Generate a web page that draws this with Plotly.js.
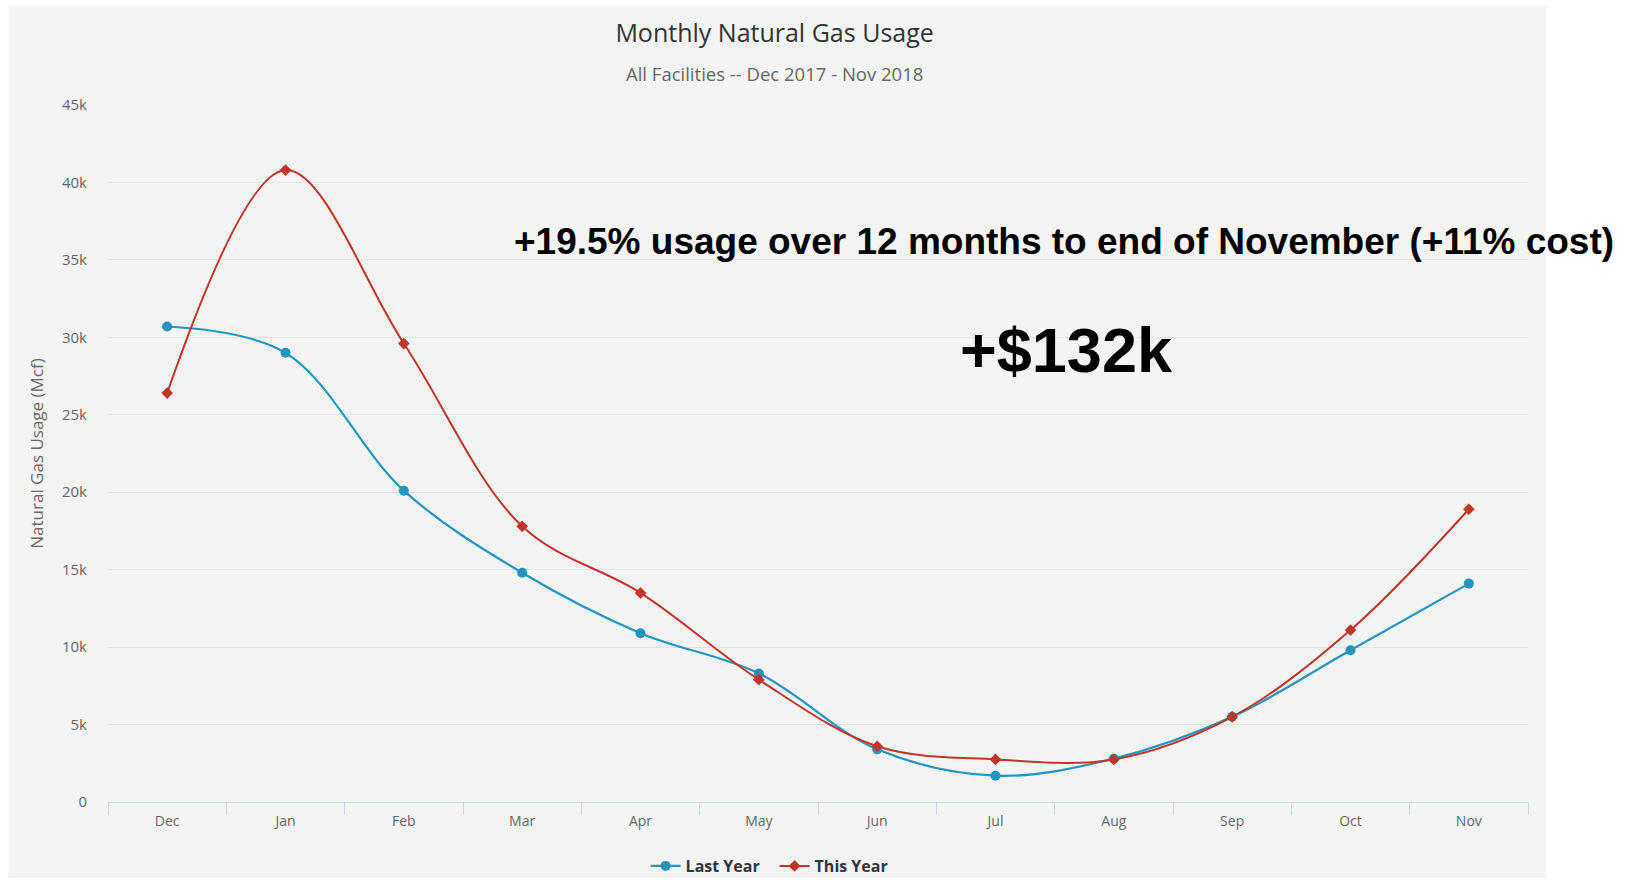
<!DOCTYPE html>
<html>
<head>
<meta charset="utf-8">
<script src="https://cdn.plot.ly/plotly-3.0.1.min.js"></script>
<style>html,body{margin:0;padding:0;background:#fff;}#chart{width:1638px;height:880px;}</style>
</head>
<body>
<div id="chart"></div>
<script>
const months = ["Dec","Jan","Feb","Mar","Apr","May","Jun","Jul","Aug","Sep","Oct","Nov"];
const lastYear = [30700, 29000, 20100, 14800, 10900, 8300, 3400, 1700, 2800, 5500, 9800, 14100];
const thisYear = [26400, 40800, 29600, 17800, 13500, 7900, 3600, 2750, 2750, 5500, 11100, 18900];
const yTickVals = [0, 5000, 10000, 15000, 20000, 25000, 30000, 35000, 40000, 45000];
const yTickText = ["0","5k","10k","15k","20k","25k","30k","35k","40k","45k"];

const W = 1638, H = 880;
const L = 107.6, R = 1528.3, T = 104.5, B = 802;
const pw = R - L, ph = B - T;
const px = x => (x - L) / pw;
const py = y => (B - y) / ph;

const blue = "#2294bf", red = "#c3342a";
const baseFont = "'Open Sans', 'DejaVu Sans', sans-serif";

const traces = [
  {x: months, y: lastYear, name: "Last Year", type: "scatter", mode: "lines+markers",
   line: {color: blue, width: 2.2, shape: "spline", smoothing: 1},
   marker: {color: blue, size: 10, symbol: "circle"}},
  {x: months, y: thisYear, name: "This Year", type: "scatter", mode: "lines+markers",
   line: {color: red, width: 2, shape: "spline", smoothing: 1},
   marker: {color: red, size: 9, symbol: "diamond"}}
];

const layout = {
  width: W, height: H,
  margin: {l: L, r: W - R, t: T, b: H - B, pad: 0, autoexpand: false},
  paper_bgcolor: "#ffffff",
  plot_bgcolor: "rgba(0,0,0,0)",
  font: {family: baseFont, color: "#666"},
  title: {text: "Monthly Natural Gas Usage", xref: "container", x: 774.6 / W, xanchor: "center",
          yref: "container", y: 1 - 33.5/H, yanchor: "middle",
          font: {family: baseFont, size: 25, color: "#333"}},
  showlegend: true,
  legend: {orientation: "h", xref: "container", x: 774.6 / W, xanchor: "center",
           yref: "container", y: 1 - 866/H, yanchor: "middle",
           font: {family: baseFont, size: 16, color: "#333", weight: 700}, bgcolor: "rgba(0,0,0,0)",
           itemwidth: 30, tracegroupgap: 0, entrywidth: 84, entrywidthmode: "pixels"},
  xaxis: {type: "category", range: [-0.5, 11.5], fixedrange: true, automargin: false,
          showgrid: false, showline: true, linecolor: "#ccd6eb", linewidth: 1,
          ticks: "outside", tickson: "boundaries", ticklen: 12, tickcolor: "#ccd6eb", tickwidth: 1,
          ticklabelstandoff: 6,
          tickfont: {family: baseFont, size: 14, color: "#666"}, zeroline: false},
  yaxis: {range: [0, 45000], tickvals: yTickVals, ticktext: yTickText, fixedrange: true, automargin: false,
          showgrid: true, gridcolor: "#e4e4e4", gridwidth: 1, zeroline: false, showline: false,
          ticks: "", ticklabelstandoff: 20,
          tickfont: {family: baseFont, size: 15, color: "#666"},
          title: {text: "Natural Gas Usage (Mcf)", standoff: 14, font: {family: baseFont, size: 17, color: "#666"}}},
  shapes: [
    {type: "rect", xref: "paper", yref: "paper", x0: px(8), x1: px(1546), y0: py(878), y1: py(5),
     fillcolor: "#f4f4f4", line: {width: 0}, layer: "below"}
  ],
  annotations: [
    {text: "All Facilities -- Dec 2017 - Nov 2018", xref: "paper", yref: "paper", x: px(774.6), y: py(73),
     xanchor: "center", yanchor: "middle", showarrow: false, font: {family: baseFont, size: 18.5, color: "#666"}},
    {text: "<b>+19.5% usage over 12 months to end of November (+11% cost)</b>", xref: "paper", yref: "paper",
     x: px(512), y: py(241), xanchor: "left", yanchor: "middle", showarrow: false,
     font: {family: "'Liberation Sans', Arial, sans-serif", size: 37, color: "#000"}},
    {text: "<b>+$132k</b>", xref: "paper", yref: "paper", x: px(1067), y: py(350), xanchor: "center", yanchor: "middle",
     showarrow: false, font: {family: "'Liberation Sans', Arial, sans-serif", size: 63, color: "#000"}}
  ]
};

Plotly.newPlot("chart", traces, layout, {displayModeBar: false, staticPlot: true});
</script>
</body>
</html>
